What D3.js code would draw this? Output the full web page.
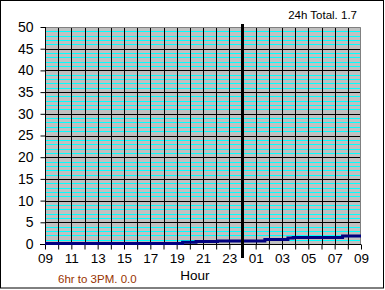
<!DOCTYPE html>
<html>
<head>
<meta charset="utf-8">
<script src="https://cdn.jsdelivr.net/npm/d3@7"></script>
<style>
  html, body { margin: 0; padding: 0; background: #ffffff; }
  svg { display: block; }
  text { font-family: "Liberation Sans", Arial, sans-serif; }
</style>
</head>
<body>
<svg id="chart" width="385" height="290"></svg>
<script>
// ---- data ----
const xTickLabels = ["09","11","13","15","17","19","21","23","01","03","05","07","09"];
const yTickValues = [0,5,10,15,20,25,30,35,40,45,50];
// cumulative rain: hours since 09:00, and mm
const rainHours  = [0, 10.45, 11.47, 13.1, 16.7, 18.45, 18.85, 22.6, 24];
const rainValues = [0, 0.3, 0.45, 0.6, 0.9, 1.25, 1.4, 1.7, 1.7];
const totalLabel = "24h Total. 1.7";
const periodLabel = "6hr to 3PM. 0.0";
const xTitle = "Hour";
const midnightHour = 15;

(function () {
// ---- layout ----
const svg = d3.select("#chart");
const pL = 45, pR = 361, pT = 27, pB = 244;
const x = d3.scaleLinear().domain([0, 24]).range([pL, pR]);
const y = d3.scaleLinear().domain([0, 50]).range([pB, pT]);

// outer frame
svg.append("rect").attr("x", 0.5).attr("y", 0.5).attr("width", 383).attr("height", 287.5)
  .attr("fill", "#ffffff").attr("stroke", "#000000").attr("stroke-width", 1);

// plot background
svg.append("rect").attr("x", pL).attr("y", pT).attr("width", pR - pL).attr("height", pB - pT)
  .attr("fill", "#c0c0c0");

// minor cyan gridlines every 1 unit
const minor = d3.range(1, 50).filter(v => v % 5 !== 0);
svg.append("g").selectAll("line").data(minor).join("line")
  .attr("x1", pL).attr("x2", pR)
  .attr("y1", d => Math.round(y(d)) + 0.5).attr("y2", d => Math.round(y(d)) + 0.5)
  .attr("stroke", "#00ffff").attr("stroke-width", 1);

// major horizontal black gridlines
svg.append("g").selectAll("line").data(yTickValues.filter(v => v > 0 && v < 50)).join("line")
  .attr("x1", pL).attr("x2", pR)
  .attr("y1", d => Math.round(y(d)) + 0.5).attr("y2", d => Math.round(y(d)) + 0.5)
  .attr("stroke", "#000000").attr("stroke-width", 1);

// vertical hourly gridlines
svg.append("g").selectAll("line").data(d3.range(1, 24)).join("line")
  .attr("x1", d => Math.round(x(d)) + 0.5).attr("x2", d => Math.round(x(d)) + 0.5)
  .attr("y1", pT).attr("y2", pB)
  .attr("stroke", "#000000").attr("stroke-width", 1);

// plot top/right border
svg.append("path")
  .attr("d", `M${pL},${pT + 0.5}H${pR - 0.5}V${pB}`)
  .attr("fill", "none").attr("stroke", "#808080").attr("stroke-width", 1);

// y axis
const yAxis = d3.axisLeft(y).tickValues(yTickValues).tickSize(5).tickPadding(7).tickFormat(d3.format("d"));
const gy = svg.append("g").attr("transform", `translate(${pL + 0.5},0)`).call(yAxis);
gy.select(".domain").attr("stroke", "#000").attr("d", `M0,${pT}V${pB}`);
gy.selectAll(".tick line").attr("stroke", "#000");
gy.selectAll(".tick text").attr("font-size", 14).attr("fill", "#000")
  .attr("font-family", "Liberation Sans, Arial, sans-serif");

// x axis (ticks every hour, labels every 2)
const xAxis = d3.axisBottom(x).tickValues(d3.range(0, 25)).tickSize(5).tickPadding(4)
  .tickFormat(d => d % 2 === 0 ? xTickLabels[d / 2] : "");
const gx = svg.append("g").attr("transform", `translate(0,${pB + 0.5})`).call(xAxis);
gx.select(".domain").attr("stroke", "#000").attr("d", `M${pL - 5},0H${pR}`);
gx.selectAll(".tick line").attr("stroke", "#000");
gx.selectAll(".tick text").attr("font-size", 13.5).attr("fill", "#000")
  .attr("font-family", "Liberation Sans, Arial, sans-serif");

// rain line
const pts = rainHours.map((h, i) => [h, rainValues[i]]);
svg.append("path").datum(pts)
  .attr("d", d3.line().x(d => x(d[0])).y(d => y(d[1]) - 0.5).curve(d3.curveStepAfter))
  .attr("fill", "none").attr("stroke", "#000080").attr("stroke-width", 3);

// midnight marker
svg.append("line")
  .attr("x1", x(midnightHour)).attr("x2", x(midnightHour))
  .attr("y1", 24).attr("y2", 258)
  .attr("stroke", "#000").attr("stroke-width", 3);

// texts
svg.append("text").attr("x", 357).attr("y", 19).attr("text-anchor", "end")
  .attr("font-size", 11.5).attr("fill", "#000").text(totalLabel);
svg.append("text").attr("x", 195).attr("y", 280).attr("text-anchor", "middle")
  .attr("font-size", 13.5).attr("fill", "#000").text(xTitle);
svg.append("text").attr("x", 58).attr("y", 283)
  .attr("font-size", 11.5).attr("fill", "#993300").text(periodLabel);
})();
</script>
</body>
</html>
